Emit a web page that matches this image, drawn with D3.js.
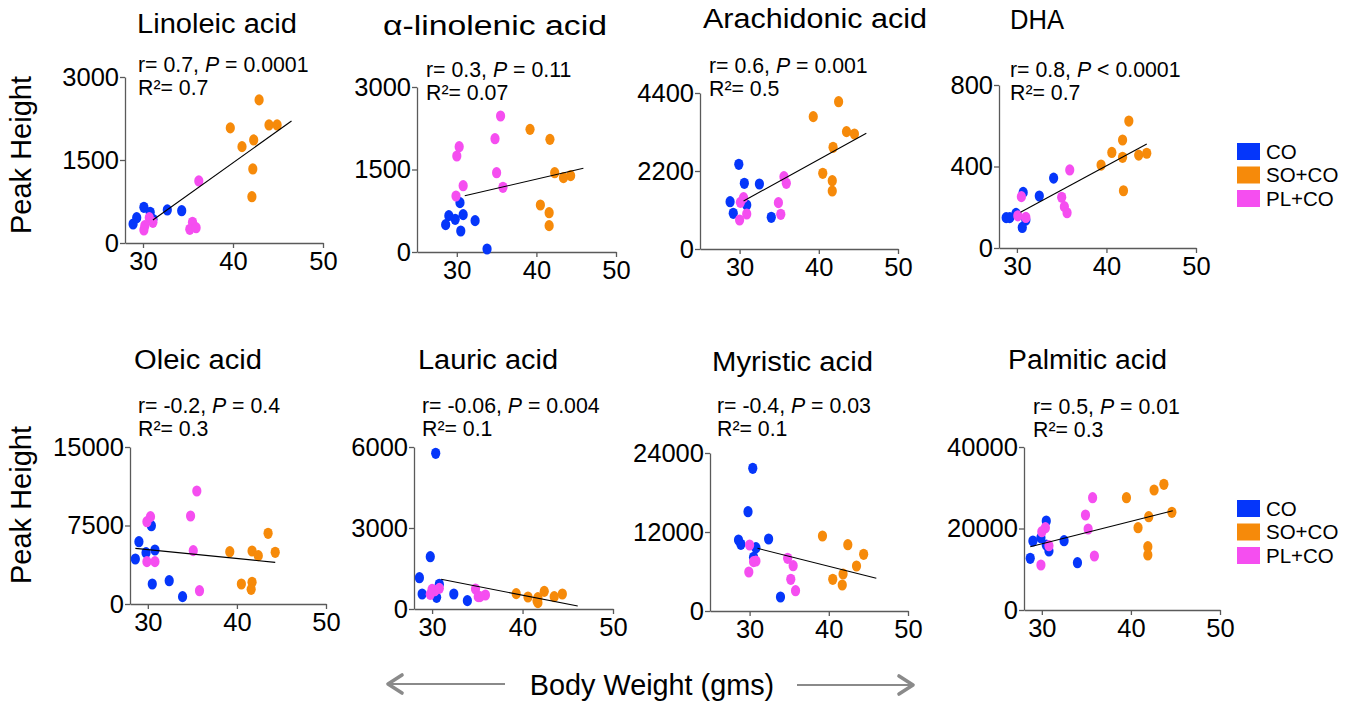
<!DOCTYPE html>
<html><head><meta charset="utf-8">
<script src="https://cdn.jsdelivr.net/npm/d3@7"></script>
<style>
body{margin:0;background:#fff;}
svg{font-family:"Liberation Sans",Arial,Helvetica,sans-serif;}
</style></head>
<body>
<svg id="chart" width="1359" height="704"></svg>
<script>
// ---------- DATA ----------
const groups = ["CO", "SO+CO", "PL+CO"];
const groupColors = ["#0536fa", "#f68a0a", "#f54ef0"];
const xTicks = [30, 40, 50];

const titles = ["Linoleic acid", "α-linolenic acid", "Arachidonic acid", "DHA",
                "Oleic acid", "Lauric acid", "Myristic acid", "Palmitic acid"];
const statsR = ["r= 0.7, ", "r= 0.3, ", "r= 0.6, ", "r= 0.8, ", "r= -0.2, ", "r= -0.06, ", "r= -0.4, ", "r= 0.5, "];
const statsP = [" = 0.0001", " = 0.11", " = 0.001", " < 0.0001", " = 0.4", " = 0.004", " = 0.03", " = 0.01"];
const statsR2 = ["0.7", "0.07", "0.5", "0.7", "0.3", "0.1", "0.1", "0.3"];
const yTicks = [[0,1500,3000],[0,1500,3000],[0,2200,4400],[0,400,800],
                [0,7500,15000],[0,3000,6000],[0,12000,24000],[0,20000,40000]];
const yMax = [3000, 3000, 4400, 800, 15000, 6000, 24000, 40000];
const xMin = [28, 25, 25, 28, 28, 28, 25, 28];

// body weight (g), peak height
const linoleicCO = [[28.9,343],[29.3,457],[30.1,645],[30.8,555],[31.1,428],[32.7,597],[34.3,584]];
const linoleicSO = [[42.9,2586],[39.7,2080],[44.0,2134],[44.9,2134],[42.3,1862],[41.0,1741],[42.2,1338],[42.1,837]];
const linoleicPL = [[36.2,1121],[30.7,457],[31.1,374],[30.2,313],[30.1,235],[35.5,374],[35.2,248],[35.9,277]];
const linoleicFit = [[31.1,416],[46.5,2206]];

const alphaCO = [[30.4,897],[29.0,661],[28.6,497],[29.8,594],[30.8,679],[30.5,382],[32.3,570],[33.8,55]];
const alphaSO = [[39.2,2230],[41.7,2048],[42.3,1442],[43.4,1352],[44.3,1388],[40.5,855],[41.6,715],[41.6,479]];
const alphaPL = [[35.5,2473],[34.8,2060],[30.3,1915],[30.0,1745],[35.0,1442],[30.8,1206],[35.8,1176],[29.9,1018]];
const alphaFit = [[31.0,1024],[45.9,1522]];

const arachCO = [[29.9,2389],[30.6,1853],[32.5,1834],[28.8,1335],[30.9,1241],[29.2,1007],[34.0,894]];
const arachSO = [[42.5,4155],[39.3,3733],[43.5,3310],[44.5,3244],[41.8,2868],[40.5,2135],[41.7,1927],[41.7,1636]];
const arachPL = [[35.6,2040],[35.9,1853],[30.5,1448],[30.1,1316],[34.9,1307],[30.9,987],[35.2,978],[30.0,818]];
const arachFit = [[30.5,1354],[46.0,3264]];

const dhaCO = [[34.1,343],[30.7,273],[32.5,255],[29.9,170],[28.8,149],[29.2,149],[31.0,137],[30.6,101]];
const dhaSO = [[42.5,623],[41.8,530],[40.6,469],[41.8,445],[43.6,456],[44.5,465],[39.4,407],[41.9,281]];
const dhaPL = [[35.9,383],[30.5,252],[35.0,249],[35.3,203],[35.6,173],[30.1,158],[31.0,150]];
const dhaFit = [[30.4,175],[44.5,510]];

const oleicCO = [[30.4,7484],[29.0,5955],[29.8,4904],[30.8,5159],[28.6,4299],[30.5,1911],[32.4,2229],[33.9,701]];
const oleicSO = [[43.5,6752],[39.2,5000],[41.7,5064],[42.4,4618],[44.3,4937],[40.5,1911],[41.7,2070],[41.6,1401]];
const oleicPL = [[35.5,10796],[30.3,8345],[29.9,7866],[34.8,8408],[35.1,5096],[29.9,4045],[30.8,4045],[35.8,1274]];
const oleicFit = [[28.6,5318],[44.3,3980]];

const lauricCO = [[30.4,5766],[29.8,1938],[28.6,1160],[28.9,556],[30.8,914],[30.5,432],[32.4,556],[33.9,309]];
const lauricSO = [[39.3,568],[40.6,444],[41.7,420],[41.7,235],[42.4,654],[43.5,457],[44.4,556],[41.6,309]];
const lauricPL = [[30.0,728],[30.3,679],[30.8,765],[29.8,543],[34.8,740],[35.1,457],[35.9,518],[35.3,457]];
const lauricFit = [[31.0,1099],[46.1,111]];

const myristicCO = [[30.4,21671],[29.8,15080],[28.6,10785],[28.9,10127],[32.4,10937],[30.8,9620],[30.5,8157],[33.9,2127]];
const myristicSO = [[39.2,11392],[42.4,10076],[44.4,8613],[43.5,6836],[41.8,5620],[40.5,4811],[41.7,3949]];
const myristicPL = [[30.0,10026],[34.8,8000],[35.5,6886],[30.5,7494],[30.8,7595],[29.9,5924],[35.2,4811],[35.8,3088]];
const myristicFit = [[31.0,9519],[46.0,4962]];

const palmiticCO = [[30.5,21840],[29.9,17740],[29.0,16930],[32.5,17010],[30.5,15950],[30.8,14480],[28.7,12690],[34.0,11610]];
const palmiticSO = [[43.7,30850],[42.6,29450],[39.5,27560],[44.6,23970],[42.0,22900],[40.8,20200],[41.9,15540],[41.9,13500]];
const palmiticPL = [[35.7,27560],[34.9,23310],[35.2,19880],[30.4,20200],[30.0,19220],[30.8,15780],[35.9,13250],[29.9,11040]];
const palmiticFit = [[28.7,15530],[44.7,24370]];

const panelData = [
  [linoleicCO, linoleicSO, linoleicPL, linoleicFit],
  [alphaCO, alphaSO, alphaPL, alphaFit],
  [arachCO, arachSO, arachPL, arachFit],
  [dhaCO, dhaSO, dhaPL, dhaFit],
  [oleicCO, oleicSO, oleicPL, oleicFit],
  [lauricCO, lauricSO, lauricPL, lauricFit],
  [myristicCO, myristicSO, myristicPL, myristicFit],
  [palmiticCO, palmiticSO, palmiticPL, palmiticFit]
];

// ---------- LAYOUT ----------
const layout = [
  {x0:125, x1:323, yTop:77,  yBot:243, tx:137, ty:33,  tw:160, sx:138, sy:72},
  {x0:417, x1:616, yTop:87,  yBot:252, tx:383, ty:35,  tw:224, sx:426, sy:77},
  {x0:700, x1:898, yTop:93,  yBot:249, tx:703, ty:28,  tw:224, sx:709, sy:73},
  {x0:999, x1:1196,yTop:85,  yBot:248, tx:1010,ty:29,  tw:54,  sx:1010,sy:77},
  {x0:130, x1:326, yTop:447, yBot:604, tx:134, ty:369, tw:128, sx:138, sy:413},
  {x0:414, x1:613, yTop:447, yBot:609, tx:418, ty:369, tw:140, sx:422, sy:413},
  {x0:710, x1:908, yTop:453, yBot:611, tx:712, ty:371, tw:161, sx:717, sy:413},
  {x0:1024,x1:1220,yTop:447, yBot:610, tx:1008,ty:369, tw:159, sx:1033,sy:414}
];

const svg = d3.select("#chart");
const axisColor = "#5a5a5a";

layout.forEach((L, i) => {
  const x = d3.scaleLinear().domain([xMin[i], 50]).range([L.x0, L.x1]);
  const y = d3.scaleLinear().domain([0, yMax[i]]).range([L.yBot, L.yTop]);
  const g = svg.append("g");

  // title
  g.append("text").attr("x", L.tx).attr("y", L.ty)
    .attr("font-size", 27).attr("fill", "#000")
    .attr("textLength", L.tw).attr("lengthAdjust", "spacingAndGlyphs")
    .text(titles[i]);

  // stats
  const t1 = g.append("text").attr("x", L.sx).attr("y", L.sy).attr("font-size", 21.3).attr("fill", "#000");
  t1.append("tspan").text(statsR[i]);
  t1.append("tspan").attr("font-style", "italic").text("P");
  t1.append("tspan").text(statsP[i]);
  g.append("text").attr("x", L.sx).attr("y", L.sy + 22.5).attr("font-size", 21.3).attr("fill", "#000")
    .text("R²= " + statsR2[i]);

  // axes
  const ya = g.append("g").attr("transform", `translate(${L.x0},0)`)
    .call(d3.axisLeft(y).tickValues(yTicks[i]).tickSize(5).tickSizeOuter(0).tickPadding(1).tickFormat(d3.format("d")));
  const xa = g.append("g").attr("transform", `translate(0,${L.yBot})`)
    .call(d3.axisBottom(x).tickValues(xTicks).tickSize(5).tickSizeOuter(0).tickPadding(4).tickFormat(d3.format("d")));
  [ya, xa].forEach(a => {
    a.selectAll("path,line").attr("stroke", axisColor).attr("stroke-width", 1.3);
    a.selectAll("text").attr("font-size", 25.5).attr("fill", "#000")
      .attr("font-family", '"Liberation Sans",Arial,sans-serif');
  });

  // points
  const pts = panelData[i];
  groups.forEach((grp, k) => {
    g.append("g").selectAll("ellipse").data(pts[k]).join("ellipse")
      .attr("cx", d => x(d[0])).attr("cy", d => y(d[1]))
      .attr("rx", 4.6).attr("ry", 5.6)
      .attr("fill", groupColors[k]);
  });

  // fit line
  const fit = pts[3];
  g.append("line")
    .attr("x1", x(fit[0][0])).attr("y1", y(fit[0][1]))
    .attr("x2", x(fit[1][0])).attr("y2", y(fit[1][1]))
    .attr("stroke", "#000").attr("stroke-width", 1.1);
});

// y axis labels
[[21, 155], [21, 505]].forEach(p => {
  svg.append("text").attr("transform", `translate(${p[0] + 10},${p[1]}) rotate(-90)`)
    .attr("text-anchor", "middle").attr("font-size", 29).attr("fill", "#000")
    .text("Peak Height");
});

// legends
[143, 500].forEach(top => {
  groups.forEach((grp, k) => {
    svg.append("rect").attr("x", 1237).attr("y", top + k * 23.5)
      .attr("width", 23).attr("height", 17).attr("fill", groupColors[k]);
    svg.append("text").attr("x", 1266).attr("y", top + k * 23.5 + 15.5)
      .attr("font-size", 20.5).attr("fill", "#000").text(grp);
  });
});

// x axis label with arrows
svg.append("text").attr("x", 652).attr("y", 695).attr("text-anchor", "middle")
  .attr("font-size", 28.8).attr("fill", "#000").text("Body Weight (gms)");
const arrowCol = "#8a8a8a";
svg.append("line").attr("x1", 505).attr("y1", 684).attr("x2", 388).attr("y2", 684)
  .attr("stroke", arrowCol).attr("stroke-width", 2.2);
svg.append("polyline").attr("points", "402,675 388,684 402,693")
  .attr("fill", "none").attr("stroke", arrowCol).attr("stroke-width", 3.6).attr("stroke-linecap", "round").attr("stroke-linejoin", "round");
svg.append("line").attr("x1", 797).attr("y1", 685).attr("x2", 913).attr("y2", 685)
  .attr("stroke", arrowCol).attr("stroke-width", 2.2);
svg.append("polyline").attr("points", "899,676 913,685 899,694")
  .attr("fill", "none").attr("stroke", arrowCol).attr("stroke-width", 3.6).attr("stroke-linecap", "round").attr("stroke-linejoin", "round");
</script>
</body></html>
